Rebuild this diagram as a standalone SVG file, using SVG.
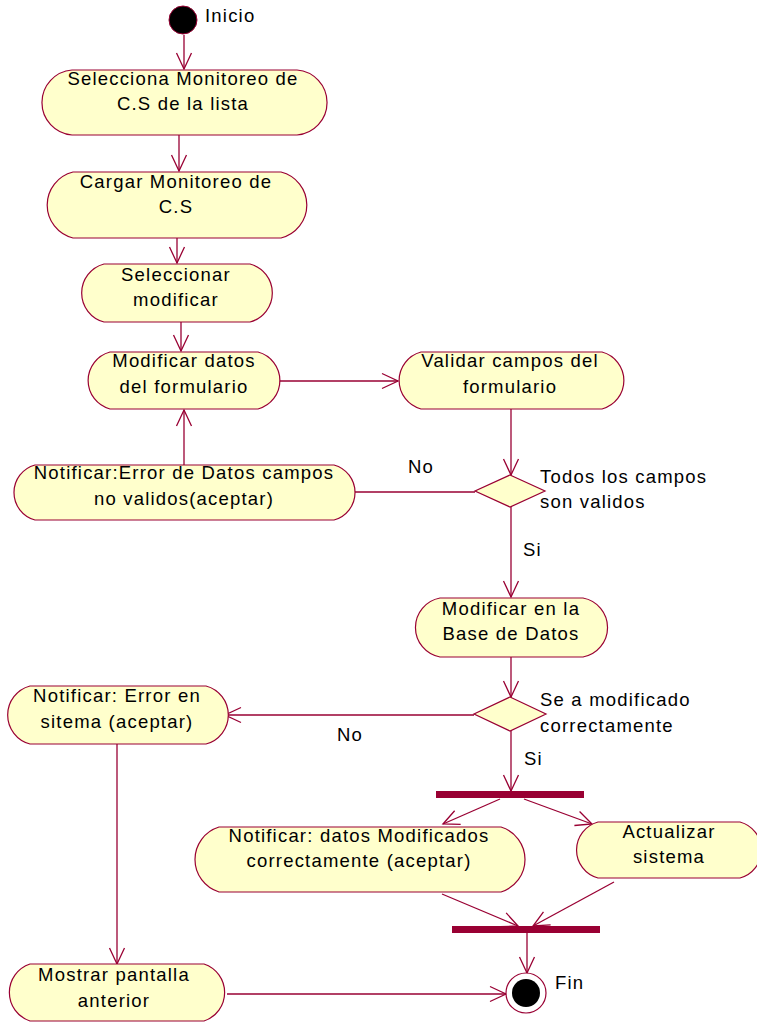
<svg xmlns="http://www.w3.org/2000/svg" width="757" height="1022" viewBox="0 0 757 1022">
<style>
.n{fill:#FFFFCC;stroke:#990033;stroke-width:1.2}
.c{fill:none;stroke:#990033;stroke-width:1.3}
.t{font-family:"Liberation Sans",Arial,sans-serif;font-size:18.5px;letter-spacing:1.2px;fill:#000}
.m{text-anchor:middle}
.bar{fill:#990033}
</style>
<defs>
<marker id="a" markerUnits="userSpaceOnUse" markerWidth="18" markerHeight="17" refX="16" refY="7.5" orient="auto" overflow="visible">
<path d="M0,0 L16,7.5 L0,15" fill="none" stroke="#990033" stroke-width="1.3"/>
</marker>
</defs>
<rect width="757" height="1022" fill="#fff"/>
<g id="connectors">
<line class="c" x1="184" y1="35" x2="184" y2="69" marker-end="url(#a)"/>
<line class="c" x1="179" y1="135" x2="179" y2="171" marker-end="url(#a)"/>
<line class="c" x1="177" y1="238" x2="177" y2="263" marker-end="url(#a)"/>
<line class="c" x1="181" y1="322" x2="181" y2="351" marker-end="url(#a)"/>
<line class="c" x1="279" y1="381" x2="398" y2="381" marker-end="url(#a)"/>
<line class="c" x1="511" y1="409" x2="511" y2="475" marker-end="url(#a)"/>
<line class="c" x1="475" y1="492" x2="338" y2="492" marker-end="url(#a)"/>
<line class="c" x1="184" y1="465" x2="184" y2="410" marker-end="url(#a)"/>
<line class="c" x1="511" y1="507" x2="511" y2="597" marker-end="url(#a)"/>
<line class="c" x1="511" y1="657" x2="511" y2="697" marker-end="url(#a)"/>
<line class="c" x1="474" y1="715" x2="225" y2="715" marker-end="url(#a)"/>
<line class="c" x1="511" y1="731" x2="511" y2="791" marker-end="url(#a)"/>
<line class="c" x1="500" y1="799" x2="443" y2="824" marker-end="url(#a)"/>
<line class="c" x1="524" y1="799" x2="592" y2="824" marker-end="url(#a)"/>
<line class="c" x1="442" y1="894" x2="518" y2="926" marker-end="url(#a)"/>
<line class="c" x1="614" y1="882" x2="533" y2="926" marker-end="url(#a)"/>
<line class="c" x1="527" y1="933" x2="527" y2="973" marker-end="url(#a)"/>
<line class="c" x1="117" y1="744" x2="117" y2="964" marker-end="url(#a)"/>
<line class="c" x1="227" y1="994" x2="506" y2="994" marker-end="url(#a)"/>
</g>
<g id="inicio">
<circle cx="183" cy="20" r="14" fill="#000" stroke="#990033" stroke-width="1"/>
<text class="t" x="205" y="22">Inicio</text>
</g>
<g id="n1">
<path class="n" d="M72,70 H297 A32.6,32.6 0 0 1 297,135 H72 A32.6,32.6 0 0 1 72,70 Z"/>
<text class="t m" x="183" y="85">Selecciona Monitoreo de</text>
<text class="t m" x="183" y="110">C.S de la lista</text>
</g>
<g id="n2">
<path class="n" d="M73,172 H281 A34,34 0 0 1 281,238 H73 A34,34 0 0 1 73,172 Z"/>
<text class="t m" x="176" y="188">Cargar Monitoreo de</text>
<text class="t m" x="176" y="213">C.S</text>
</g>
<g id="n3">
<path class="n" d="M104,264 H250 A30,30 0 0 1 250,322 H104 A30,30 0 0 1 104,264 Z"/>
<text class="t m" x="176" y="281">Seleccionar</text>
<text class="t m" x="176" y="306">modificar</text>
</g>
<g id="n4">
<path class="n" d="M110,352 H258 A29.5,29.5 0 0 1 258,409 H110 A29.5,29.5 0 0 1 110,352 Z"/>
<text class="t m" x="184" y="367">Modificar datos</text>
<text class="t m" x="184" y="393">del formulario</text>
</g>
<g id="n5">
<path class="n" d="M421,352 H602 A29.5,29.5 0 0 1 602,409 H421 A29.5,29.5 0 0 1 421,352 Z"/>
<text class="t m" x="510" y="367">Validar campos del</text>
<text class="t m" x="510" y="393">formulario</text>
</g>
<g id="d1">
<polygon class="n" points="510,475 545,491 510,507 475,491"/>
<text class="t" x="540" y="483">Todos los campos</text>
<text class="t" x="540" y="508">son validos</text>
</g>
<g id="n6">
<path class="n" d="M35,465 H334 A28.5,28.5 0 0 1 334,520 H35 A28.5,28.5 0 0 1 35,465 Z"/>
<text class="t m" x="184" y="479">Notificar:Error de Datos campos</text>
<text class="t m" x="184" y="505">no validos(aceptar)</text>
</g>
<g id="lbl1">
<text class="t" x="408" y="473">No</text>
<text class="t" x="523" y="556">Si</text>
</g>
<g id="n7">
<path class="n" d="M440,598 H583 A30,30 0 0 1 583,657 H440 A30,30 0 0 1 440,598 Z"/>
<text class="t m" x="511" y="615">Modificar en la</text>
<text class="t m" x="511" y="640">Base de Datos</text>
</g>
<g id="d2">
<polygon class="n" points="510,697 546,714 510,731 474,714"/>
<text class="t" x="540" y="706">Se a modificado</text>
<text class="t" x="540" y="732">correctamente</text>
</g>
<g id="n8">
<path class="n" d="M30,686 H206 A30,30 0 0 1 206,744 H30 A30,30 0 0 1 30,686 Z"/>
<text class="t m" x="117" y="702">Notificar: Error en</text>
<text class="t m" x="117" y="728">sitema (aceptar)</text>
</g>
<g id="lbl2">
<text class="t" x="337" y="741">No</text>
<text class="t" x="524" y="765">Si</text>
</g>
<g id="fork"><rect class="bar" x="436" y="791" width="148" height="7"/></g>
<g id="n9">
<path class="n" d="M219,827 H501 A34,34 0 0 1 501,892 H219 A34,34 0 0 1 219,827 Z"/>
<text class="t m" x="359" y="842">Notificar: datos Modificados</text>
<text class="t m" x="359" y="867">correctamente (aceptar)</text>
</g>
<g id="n10">
<path class="n" d="M598,822 H740 A29,29 0 0 1 740,878 H598 A29,29 0 0 1 598,822 Z"/>
<text class="t m" x="669" y="838">Actualizar</text>
<text class="t m" x="669" y="863">sistema</text>
</g>
<g id="join"><rect class="bar" x="452" y="926" width="148" height="7"/></g>
<g id="n11">
<path class="n" d="M30,964 H204 A30,30 0 0 1 204,1021 H30 A30,30 0 0 1 30,964 Z"/>
<text class="t m" x="114" y="981">Mostrar pantalla</text>
<text class="t m" x="114" y="1007">anterior</text>
</g>
<g id="fin">
<circle cx="526" cy="993" r="20" fill="#fff" stroke="#990033" stroke-width="1.2"/>
<circle cx="526" cy="993" r="14" fill="#000"/>
<text class="t" x="555" y="989">Fin</text>
</g>
</svg>
